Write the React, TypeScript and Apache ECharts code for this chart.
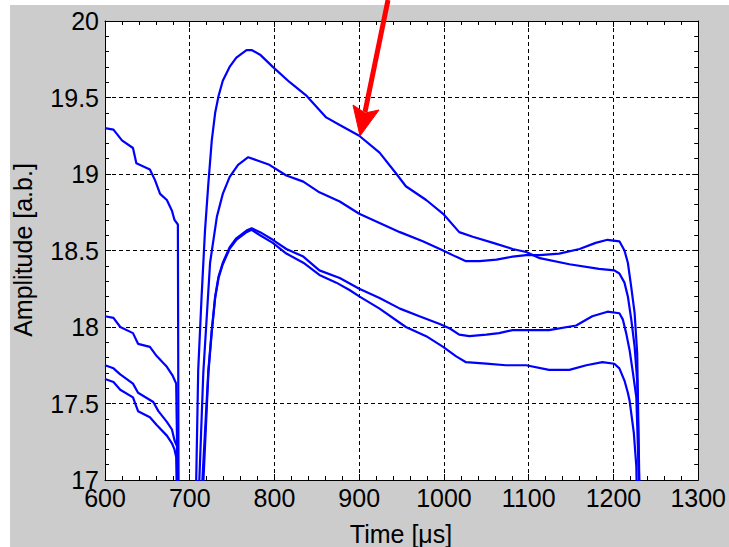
import React, { useEffect, useRef } from "react";
import * as echarts from "echarts";

// Tick values
const xTicks = { min: 600, max: 1300, step: 100 };
const yTicks = { min: 17, max: 20, step: 0.5 };

// Series A (top curve, peak ~19.8)
const timeA = [600, 610, 620, 633, 637, 653, 659, 665, 673, 679, 682, 686, 687, 706, 710, 714, 718, 722, 726, 730, 734, 739, 747, 755, 767, 773, 783, 798, 818, 838, 861, 877, 900, 924, 944, 955, 979, 999, 1018, 1034, 1058, 1081, 1097, 1113, 1148, 1183, 1201, 1207, 1213, 1217, 1221, 1225, 1228, 1232];
const ampA = [19.30, 19.29, 19.22, 19.17, 19.07, 19.03, 18.96, 18.87, 18.83, 18.76, 18.70, 18.67, 16.5, 16.5, 17.72, 18.20, 18.63, 18.94, 19.22, 19.40, 19.51, 19.61, 19.70, 19.76, 19.81, 19.81, 19.78, 19.70, 19.60, 19.51, 19.37, 19.32, 19.25, 19.14, 19.00, 18.92, 18.83, 18.74, 18.62, 18.59, 18.55, 18.51, 18.49, 18.45, 18.41, 18.38, 18.37, 18.35, 18.29, 18.20, 18.05, 17.87, 17.65, 16.5];

// Series B (peak ~19.1)
const timeB = [600, 610, 618, 633, 639, 653, 661, 673, 680, 684, 687, 708, 716, 724, 732, 739, 747, 757, 769, 779, 794, 814, 834, 853, 877, 900, 924, 948, 975, 999, 1014, 1026, 1042, 1062, 1081, 1097, 1113, 1136, 1160, 1179, 1193, 1207, 1213, 1217, 1221, 1225, 1228, 1232];
const ampB = [18.07, 18.06, 18.00, 17.96, 17.89, 17.87, 17.81, 17.74, 17.68, 17.63, 16.5, 16.5, 17.70, 18.42, 18.72, 18.87, 18.98, 19.06, 19.11, 19.09, 19.06, 18.99, 18.95, 18.88, 18.82, 18.74, 18.68, 18.62, 18.56, 18.50, 18.46, 18.43, 18.43, 18.44, 18.46, 18.47, 18.47, 18.48, 18.51, 18.55, 18.57, 18.56, 18.50, 18.42, 18.26, 18.09, 17.83, 16.5];

// Series C (peak ~18.65, ends ~18.1)
const timeC = [600, 610, 618, 633, 639, 657, 663, 673, 679, 682, 685, 687, 710, 722, 726, 730, 734, 739, 747, 755, 767, 773, 783, 798, 814, 834, 853, 877, 900, 924, 948, 971, 995, 1007, 1018, 1030, 1050, 1065, 1081, 1124, 1156, 1175, 1193, 1207, 1211, 1215, 1219, 1223, 1227, 1233];
const ampC = [17.75, 17.73, 17.69, 17.63, 17.57, 17.51, 17.45, 17.38, 17.33, 17.26, 17.22, 16.5, 16.5, 17.72, 17.98, 18.20, 18.33, 18.42, 18.52, 18.58, 18.63, 18.645, 18.62, 18.57, 18.51, 18.46, 18.37, 18.32, 18.25, 18.19, 18.12, 18.07, 18.02, 17.99, 17.95, 17.94, 17.95, 17.96, 17.98, 17.98, 18.01, 18.07, 18.10, 18.09, 18.05, 17.96, 17.85, 17.70, 17.54, 16.5];

// Series D (lowest, ends ~17.77)
const timeD = [600, 610, 618, 633, 639, 653, 661, 673, 679, 682, 684, 686, 712, 722, 726, 730, 734, 739, 747, 755, 767, 773, 783, 798, 814, 834, 853, 873, 889, 900, 924, 955, 979, 999, 1014, 1026, 1050, 1073, 1097, 1124, 1148, 1168, 1187, 1201, 1207, 1213, 1217, 1219, 1224, 1227, 1229];
const ampD = [17.66, 17.64, 17.59, 17.54, 17.45, 17.41, 17.36, 17.29, 17.24, 17.20, 17.15, 16.5, 16.5, 17.70, 17.97, 18.19, 18.32, 18.41, 18.51, 18.57, 18.62, 18.635, 18.60, 18.55, 18.48, 18.42, 18.34, 18.29, 18.24, 18.20, 18.12, 18.00, 17.94, 17.87, 17.81, 17.77, 17.76, 17.75, 17.75, 17.72, 17.72, 17.75, 17.77, 17.76, 17.73, 17.65, 17.57, 17.52, 17.31, 17.09, 16.5];

const xTitle = "Time [μs]";
const yTitle = "Amplitude [a.b.]";

const FONT = "'Liberation Sans', Arial, Helvetica, sans-serif";
const BLUE = "#0000ff";

const zip = (xs: number[], ys: number[]) => xs.map((x, i) => [x, ys[i]]);

export default function App() {
  const ref = useRef<HTMLDivElement>(null);

  useEffect(() => {
    if (!ref.current) return;
    const chart = echarts.init(ref.current, undefined, { renderer: "svg" });

    const tickCommon = {
      axisLine: { show: true, onZero: false, lineStyle: { color: "#000", width: 1 } },
      axisTick: { show: true, inside: true, length: 6, lineStyle: { color: "#000", width: 1 } },
      minorTick: { show: true, splitNumber: 5, length: 4, lineStyle: { color: "#000", width: 1 } },
    };

    const xBase = { type: "value" as const, min: xTicks.min, max: xTicks.max, interval: xTicks.step };
    const yBase = { type: "value" as const, min: yTicks.min, max: yTicks.max, interval: yTicks.step };

    const series = [
      [timeA, ampA],
      [timeB, ampB],
      [timeC, ampC],
      [timeD, ampD],
    ].map(([xs, ys]) => ({
      type: "line" as const,
      data: zip(xs, ys),
      showSymbol: false,
      symbol: "none",
      clip: true,
      lineStyle: { color: BLUE, width: 2.2 },
      z: 3,
    }));

    chart.setOption({
      animation: false,
      backgroundColor: "transparent",
      grid: {
        left: 105,
        top: 21,
        width: 594,
        height: 459,
        show: true,
        backgroundColor: "#ffffff",
        borderWidth: 0,
      },
      xAxis: [
        {
          ...xBase,
          position: "bottom",
          ...tickCommon,
          axisLabel: {
            show: true,
            color: "#000",
            fontSize: 25,
            lineHeight: 22,
            fontFamily: FONT,
            margin: 7,
            formatter: (v: number) => String(v),
          },
          splitLine: { show: true, lineStyle: { color: "#000", width: 1, type: [4, 3] } },
        },
        {
          ...xBase,
          position: "top",
          ...tickCommon,
          axisLabel: { show: false },
          splitLine: { show: false },
        },
      ],
      yAxis: [
        {
          ...yBase,
          position: "left",
          ...tickCommon,
          axisLabel: {
            show: true,
            color: "#000",
            fontSize: 25,
            lineHeight: 22,
            fontFamily: FONT,
            margin: 6,
            formatter: (v: number) => String(v),
          },
          splitLine: { show: true, lineStyle: { color: "#000", width: 1, type: [4, 3] } },
        },
        {
          ...yBase,
          position: "right",
          ...tickCommon,
          axisLabel: { show: false },
          splitLine: { show: false },
        },
      ],
      series,
      graphic: [
        {
          type: "text",
          x: 23,
          y: 250,
          rotation: Math.PI / 2,
          style: {
            text: yTitle,
            fill: "#000",
            font: `25px ${FONT}`,
            textAlign: "center",
            textVerticalAlign: "middle",
          },
          z: 50,
        },
        {
          type: "text",
          x: 401,
          y: 534,
          style: {
            text: xTitle,
            fill: "#000",
            font: `25px ${FONT}`,
            textAlign: "center",
            textVerticalAlign: "middle",
          },
          z: 50,
        },
        {
          type: "line",
          shape: { x1: 388, y1: 0, x2: 365, y2: 112 },
          style: { stroke: "#ff0000", lineWidth: 5 },
          z: 100,
        },
        {
          type: "polygon",
          shape: { points: [[360, 136], [353, 105], [365, 113], [379, 110]] },
          style: { fill: "#ff0000", stroke: "#ff0000", lineWidth: 1 },
          z: 101,
        },
      ],
    });

    return () => chart.dispose();
  }, []);

  return (
    <div style={{ position: "absolute", left: 0, top: 0, width: 729, height: 547, background: "#ffffff" }}>
      <div style={{ position: "absolute", left: 10, top: 5, width: 719, height: 542, background: "#cccccc" }} />
      <div ref={ref} style={{ position: "absolute", left: 0, top: 0, width: 729, height: 547 }} />
    </div>
  );
}
